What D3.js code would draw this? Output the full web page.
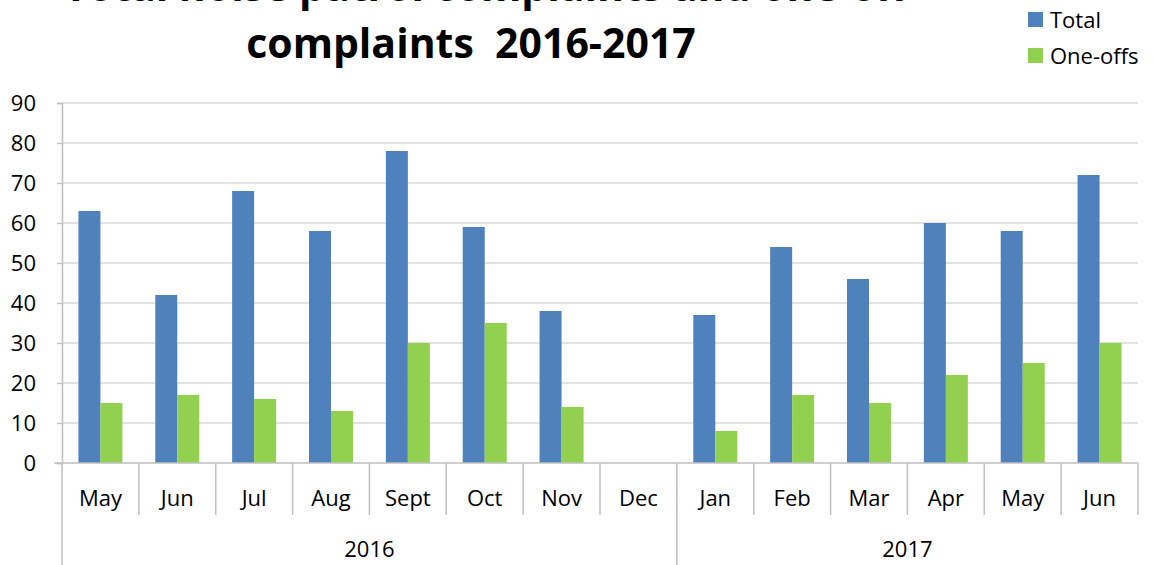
<!DOCTYPE html>
<html>
<head>
<meta charset="utf-8">
<script src="https://cdn.jsdelivr.net/npm/d3@7"></script>
<style>
  body { margin: 0; background: #fff; }
  svg { display: block; font-family: "Open Sans", "Liberation Sans", sans-serif; }
</style>
</head>
<body>
<div id="chart"></div>
<script>
// chart values
var months = ["May", "Jun", "Jul", "Aug", "Sept", "Oct", "Nov", "Dec", "Jan", "Feb", "Mar", "Apr", "May", "Jun"]
var years = ["2016", "2017"]
var monthsPerYear = [8, 6]
var totals = [63, 42, 68, 58, 78, 59, 38, null, 37, 54, 46, 60, 58, 72]
var oneOffs = [15, 17, 16, 13, 30, 35, 14, null, 8, 17, 15, 22, 25, 30]
var seriesNames = ["Total", "One-offs"]
var seriesColors = ["#4F81BD", "#92D050"]
var yTicks = [0, 10, 20, 30, 40, 50, 60, 70, 80, 90]

var width = 1153, height = 565
var plotLeft = 62, plotRight = 1138, plotTop = 103, plotBottom = 463
var labelSize = "22px"

var svg = d3.select("#chart")
    .append("svg")
    .attr("width", width)
    .attr("height", height)

var idx = d3.range(months.length)

var x = d3.scaleBand()
    .domain(idx)
    .range([plotLeft, plotRight])
    .padding(0)

var xs = d3.scaleBand()
    .domain(seriesNames)
    .range([0, x.bandwidth()])
    .paddingInner(0)
    .paddingOuter(0.747)

var y = d3.scaleLinear()
    .domain([0, 90])
    .range([plotBottom, plotTop])

// gridlines
svg.append("g")
    .selectAll("line")
    .data(yTicks.filter(function (d) { return d > 0; }))
    .enter()
    .append("line")
    .attr("x1", plotLeft)
    .attr("x2", plotRight)
    .attr("y1", function (d) { return y(d); })
    .attr("y2", function (d) { return y(d); })
    .style("stroke", "#d9d9d9")
    .style("stroke-width", 1.3)

// y axis
var yAxis = svg.append("g")
    .attr("transform", "translate(" + plotLeft + ",0)")
    .call(d3.axisLeft(y).tickValues(yTicks).tickSize(5))
yAxis.select(".domain").style("stroke", "#bfbfbf").style("stroke-width", 1.5)
yAxis.selectAll(".tick line").style("stroke", "#bfbfbf").style("stroke-width", 1.3)
yAxis.selectAll(".tick text")
    .style("font-size", labelSize)
    .style("fill", "#000")
    .style("font-family", "'Open Sans', sans-serif")
    .attr("x", -26)

// bars
var data = idx.map(function (i) {
    return [
        { key: "Total", i: i, v: totals[i] },
        { key: "One-offs", i: i, v: oneOffs[i] }
    ];
})

svg.append("g")
    .selectAll("g")
    .data(data)
    .enter()
    .append("g")
    .attr("transform", function (d, i) { return "translate(" + x(i) + ",0)"; })
    .selectAll("rect")
    .data(function (d) { return d.filter(function (e) { return e.v != null; }); })
    .enter()
    .append("rect")
    .attr("x", function (d) { return xs(d.key); })
    .attr("width", xs.bandwidth())
    .attr("y", function (d) { return y(d.v); })
    .attr("height", function (d) { return y(0) - y(d.v); })
    .style("fill", function (d) { return seriesColors[seriesNames.indexOf(d.key)]; })

// x axis line
svg.append("line")
    .attr("x1", plotLeft - 8)
    .attr("x2", plotRight)
    .attr("y1", plotBottom)
    .attr("y2", plotBottom)
    .style("stroke", "#bfbfbf")
    .style("stroke-width", 1.5)

// category separators
var yearStarts = [0]
monthsPerYear.forEach(function (n, k) { yearStarts.push(yearStarts[k] + n); })

var bounds = d3.range(months.length + 1)
svg.append("g")
    .selectAll("line")
    .data(bounds)
    .enter()
    .append("line")
    .attr("x1", function (b) { return b < months.length ? x(b) : plotRight; })
    .attr("x2", function (b) { return b < months.length ? x(b) : plotRight; })
    .attr("y1", plotBottom)
    .attr("y2", function (b) {
        return (b < months.length && yearStarts.indexOf(b) !== -1) ? height : 515;
    })
    .style("stroke", "#bfbfbf")
    .style("stroke-width", 1.5)

// month labels
svg.append("g")
    .selectAll("text")
    .data(idx)
    .enter()
    .append("text")
    .attr("x", function (i) { return x(i) + x.bandwidth() / 2; })
    .attr("y", 506)
    .attr("text-anchor", "middle")
    .style("font-size", labelSize)
    .text(function (i) { return months[i]; })

// year labels
svg.append("g")
    .selectAll("text")
    .data(years)
    .enter()
    .append("text")
    .attr("x", function (d, k) {
        var a = x(yearStarts[k]);
        var b = yearStarts[k + 1] < months.length ? x(yearStarts[k + 1]) : plotRight;
        return (a + b) / 2;
    })
    .attr("y", 557)
    .attr("text-anchor", "middle")
    .style("font-size", labelSize)
    .text(function (d) { return d; })

// title (first line is cut off by the top edge, as in the original)
var title = svg.append("text")
    .attr("text-anchor", "middle")
    .style("font-weight", "bold")
    .style("font-size", "41px")
title.append("tspan").attr("x", 486).attr("y", 1).text("Total noise patrol complaints and one-off")
title.append("tspan").attr("x", 471).attr("y", 58).text("complaints\u00a0\u00a02016-2017")

// legend
var legend = svg.append("g")
    .selectAll("g")
    .data(seriesNames)
    .enter()
    .append("g")
    .attr("transform", function (d, i) { return "translate(1028," + (12 + i * 36) + ")"; })

legend.append("rect")
    .attr("width", 15)
    .attr("height", 15)
    .style("fill", function (d, i) { return seriesColors[i]; })

legend.append("text")
    .attr("x", 22)
    .attr("y", 16)
    .style("font-size", labelSize)
    .text(function (d) { return d; })
</script>
</body>
</html>
